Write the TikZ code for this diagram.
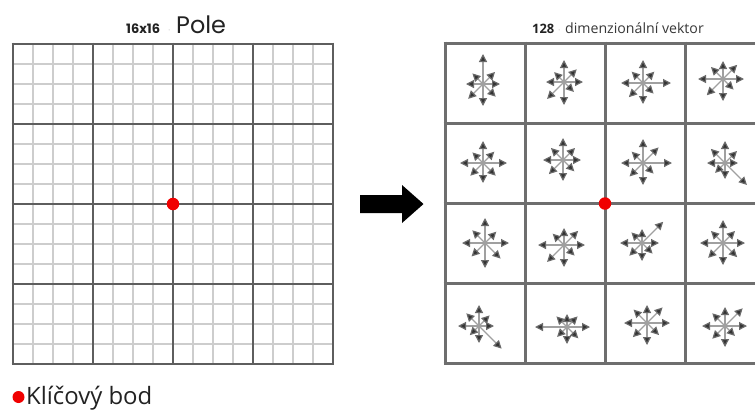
\documentclass[tikz,border=0pt]{standalone}
\usepackage{fontspec}
\setmainfont{Open Sans}
\newfontfamily\popfont{Poppins}
\usetikzlibrary{arrows.meta}
\definecolor{majorline}{HTML}{5E5E5E}
\definecolor{minorline}{HTML}{CDCDCD}
\definecolor{cellline}{HTML}{6E6E6E}
\definecolor{shaft}{HTML}{A0A0A0}
\definecolor{tipfill}{HTML}{333333}
\definecolor{tipedge}{HTML}{6A6A6A}
\definecolor{keyred}{HTML}{F00000}
\definecolor{ink}{HTML}{222222}
\tikzset{
  minorgrid/.style={draw=minorline, line width=1.7bp},
  majorgrid/.style={draw=majorline, line width=2.6bp},
  cellgrid/.style={draw=cellline, line width=3bp},
  vec/.style={draw=shaft, line width=1.2bp,
    -{Triangle[length=8bp,width=8bp,fill=tipfill,color=tipedge,fill=tipfill]}},
  keypoint/.style={circle, fill=keyred, minimum size=12.5bp, inner sep=0pt},
  label/.style={inner sep=0pt, anchor=base west, text=ink},
}
\begin{document}
\begin{tikzpicture}[x=1bp, y=-1bp]
\useasboundingbox (0,0) rectangle (755,409);
\clip (0,0) rectangle (755,409);
\fill[white] (0,0) rectangle (755,409);

% 16x16 field: fine lines every 20, coarse lines every 80
\foreach \i in {0,...,16} {
  \draw[minorgrid] (13+20*\i,44) -- (13+20*\i,364);
  \draw[minorgrid] (13,44+20*\i) -- (333,44+20*\i);
}
\foreach \i in {0,...,4} {
  \draw[majorgrid] (13+80*\i,42.7) -- (13+80*\i,365.3);
  \draw[majorgrid] (11.7,44+80*\i) -- (334.3,44+80*\i);
}

% 4x4 cells of the descriptor
\foreach \i in {0,...,4} {
  \draw[cellgrid] (445+80*\i,41.5) -- (445+80*\i,364.5);
  \draw[cellgrid] (443.5,43+80*\i) -- (770,43+80*\i);
}

% orientation histograms: lengths for E, NE, N, NW, W, SW, S, SE
\foreach \n/\cx/\cy/\la/\lb/\lc/\ld/\le/\lf/\lg/\lh in {
  a/483/84/17/17/30/15/17/21/22/18,
  b/564/82/19/18/22/14/18/24/23/14,
  c/643/83/28/16/23/16/22/20/21/15,
  d/723/79/21/20/18/17/25/23/22/15,
  e/483/163/24/16/22/15/23/18/20/18,
  f/563/160/18/17/22/17/20/20/21/16,
  g/643/163/29/22/24/16/22/19/22/15,
  h/725/163/13/17/22/20/18/14/16/31,
  i/485/243/24/16/25/18/23/19/25/22,
  j/564/245/21/20/17/16/26/24/22/15,
  k/642/243/17/30/14/15/22/18/18/15,
  l/723/243/22/17/23/17/23/21/22/20,
  m/479/326/15/15/21/18/21/13/17/32,
  n/567/327/23/15/13/15/32/14/17/16,
  o/647/323/23/22/18/19/23/20/22/17,
  p/725/326/22/25/19/18/23/18/21/14} {
  \coordinate (hist-\n) at (\cx,\cy);
  \draw[vec] (hist-\n) -- ++(0:\la);
  \draw[vec] (hist-\n) -- ++(-45:\lb);
  \draw[vec] (hist-\n) -- ++(-90:\lc);
  \draw[vec] (hist-\n) -- ++(-135:\ld);
  \draw[vec] (hist-\n) -- ++(-180:\le);
  \draw[vec] (hist-\n) -- ++(-225:\lf);
  \draw[vec] (hist-\n) -- ++(-270:\lg);
  \draw[vec] (hist-\n) -- ++(-315:\lh);
}

% key points
\node[keypoint] (kp-field) at (173,204) {};
\node[keypoint] (kp-desc) at (605,203.5) {};

% transition arrow
\fill[black] (360,195) -- (402,195) -- (402,185) -- (423.5,204) -- (402,223)
  -- (402,213) -- (360,213) -- cycle;

% headings
\node[label] (t-size) at (126,33) {\popfont\fontsize{13}{15}\selectfont\bfseries 16x16};
\node[label, text=minorline] (t-dot1) at (168,33) {\fontsize{9}{11}\selectfont ·};
\node[label] (t-pole) at (176,33) {\popfont\fontsize{24}{27}\selectfont Pole};
\node[label] (t-dim) at (532,33) {\fontsize{13}{15}\selectfont\bfseries 128};
\node[label, text=minorline] (t-dot2) at (558,33) {\fontsize{9}{11}\selectfont ·};
\node[label, text=ink!90] (t-vec) at (565,33) {\fontsize{14.2}{16}\selectfont dimenzionální vektor};

% legend
\node[keypoint, minimum size=12bp] (kp-legend) at (18.5,397) {};
\node[label] (t-legend) at (26,404.5) {\fontsize{24}{28}\selectfont Klíčový bod};
\end{tikzpicture}
\end{document}
